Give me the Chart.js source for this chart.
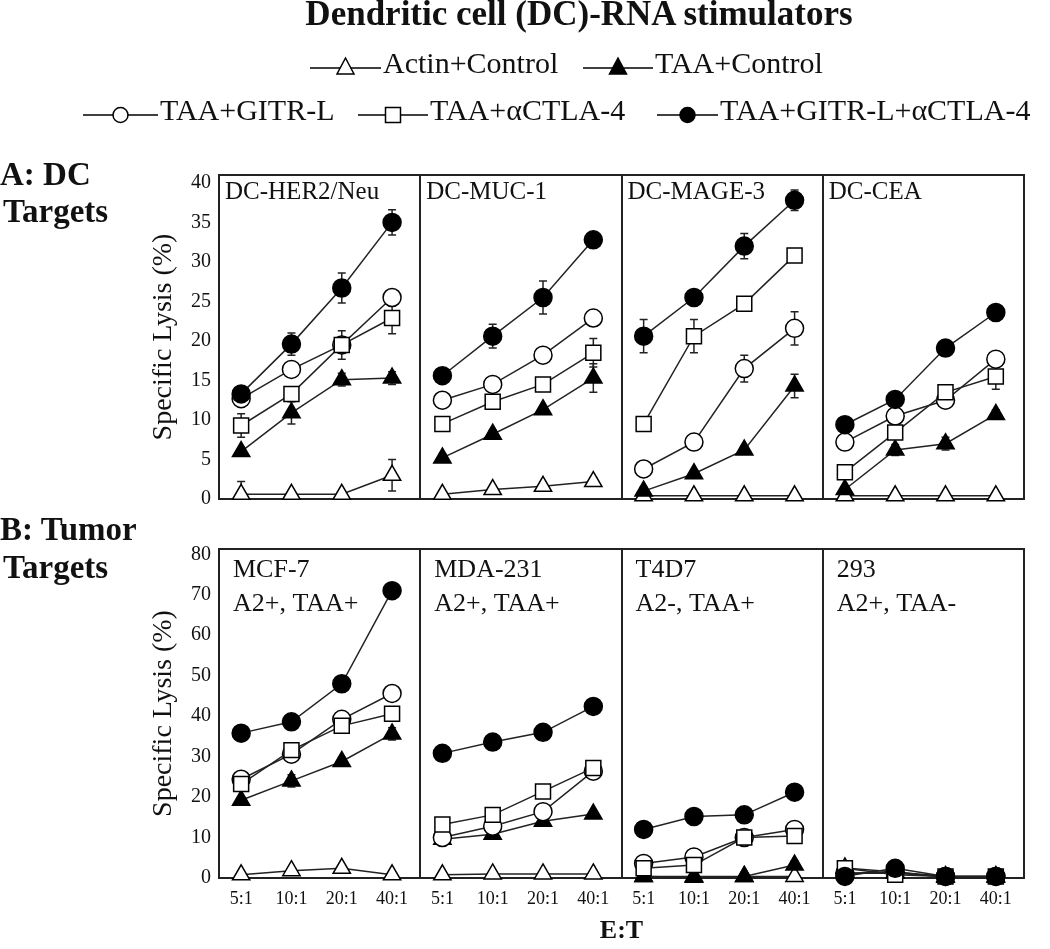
<!DOCTYPE html>
<html>
<head>
<meta charset="utf-8">
<script src="https://cdn.jsdelivr.net/npm/chart.js@4.4.1/dist/chart.umd.min.js"></script>
<style>
    html, body { margin: 0; padding: 0; background: #fff; }
    #page { position: relative; width: 1050px; height: 949px; overflow: hidden; }
    #overlay { position: absolute; left: 0; top: 0; pointer-events: none; z-index: 2; }
    .row { position: absolute; left: 143px; width: 897px; }
    #topRow { top: 155px; height: 364px; }
    #bottomRow { top: 529px; height: 420px; }
</style>
</head>
<body>
<div id="page">
    <svg id="overlay" width="1050" height="949"></svg>
    <div class="row" id="topRow"><canvas id="dcChart"></canvas></div>
    <div class="row" id="bottomRow"><canvas id="tumorChart"></canvas></div>
</div>
<script>
const ratios = ['5:1', '10:1', '20:1', '40:1'];
const seriesNames = ['Actin+Control', 'TAA+Control', 'TAA+GITR-L', 'TAA+αCTLA-4', 'TAA+GITR-L+αCTLA-4'];
const dcPanels = [['DC-HER2/Neu'], ['DC-MUC-1'], ['DC-MAGE-3'], ['DC-CEA']];
const tumorPanels = [['MCF-7', 'A2+, TAA+'], ['MDA-231', 'A2+, TAA+'], ['T4D7', 'A2-, TAA+'], ['293', 'A2+, TAA-']];
const dcTicks = [0, 5, 10, 15, 20, 25, 30, 35, 40];
const tumorTicks = [0, 10, 20, 30, 40, 50, 60, 70, 80];

// A: DC targets, one row per panel (5:1, 10:1, 20:1, 40:1)
const dcActin = [[0.6, 0.6, 0.6, 3.0], [0.6, 1.2, 1.6, 2.2], [0.4, 0.4, 0.4, 0.4], [0.4, 0.4, 0.4, 0.4]];
const dcTaa = [[6.0, 10.9, 15.1, 15.3], [5.2, 8.2, 11.3, 15.3], [1.0, 3.2, 6.2, 14.3], [1.2, 6.2, 7.0, 10.7]];
const dcGitr = [[12.7, 16.4, 19.5, 25.5], [12.5, 14.5, 18.2, 22.9], [3.8, 7.2, 16.5, 21.6], [7.2, 10.5, 12.5, 17.7]];
const dcCtla = [[9.3, 13.3, 19.5, 22.9], [9.5, 12.3, 14.5, 18.5], [9.5, 20.6, 24.7, 30.8], [3.4, 8.4, 13.5, 15.5]];
const dcBoth = [[13.3, 19.6, 26.7, 35.0], [15.6, 20.6, 25.5, 32.8], [20.6, 25.5, 32.0, 37.8], [9.4, 12.6, 19.1, 23.6]];

const dcActinErr = [[1.6, 0.3, 0.3, 2.0], [0.3, 0.3, 0.5, 0.5], [0.3, 0.3, 0.3, 0.3], [0.3, 0.3, 0.3, 0.3]];
const dcTaaErr = [[0.5, 1.4, 0.8, 0.8], [0.5, 0.5, 0.5, 1.8], [0.5, 0.5, 0.5, 1.5], [0.3, 0.7, 0.8, 0.6]];
const dcGitrErr = [[0.5, 0.5, 0.7, 0.8], [0.3, 0.6, 0.3, 0.6], [0.5, 0.6, 1.7, 2.1], [0.5, 0.5, 0.8, 0.5]];
const dcCtlaErr = [[1.5, 0.6, 1.8, 2.0], [0.3, 0.3, 0.3, 1.8], [0.3, 2.1, 0.5, 0.5], [0.3, 0.7, 0.8, 1.6]];
const dcBothErr = [[0.5, 1.4, 1.9, 1.6], [0.3, 1.5, 2.1, 0.5], [2.1, 0.5, 1.6, 1.3], [0.5, 0.5, 0.5, 0.5]];

// B: tumor targets
const tuActin = [[0.8, 1.8, 2.4, 0.8], [0.8, 1.0, 1.0, 1.0], [0.4, 0.4, 0.4, 0.4], [2.5, 1.5, 0.2, 0.2]];
const tuTaa = [[19.2, 24.0, 28.8, 35.6], [9.6, 10.8, 14.0, 15.8], [0.4, 0.2, 0.4, 3.2], [1.2, 1.2, 0.4, 0.4]];
const tuGitr = [[24.4, 30.6, 39.2, 45.6], [10.0, 12.8, 16.4, 26.4], [3.6, 5.2, 10.0, 12.0], [1.2, 1.5, 0.4, 0.4]];
const tuCtla = [[23.2, 31.6, 37.6, 40.6], [13.2, 15.6, 21.4, 27.2], [2.4, 3.2, 10.0, 10.4], [2.4, 0.8, 0.4, 0.4]];
const tuBoth = [[35.8, 38.6, 48.0, 71.0], [30.8, 33.6, 36.0, 42.4], [12.0, 15.2, 15.6, 21.2], [0.4, 2.4, 0.4, 0.4]];

const tuActinErr = [[0, 0, 0.5, 0], [0, 0, 0, 0], [0, 0, 0, 0], [0, 0, 0, 0]];
const tuTaaErr = [[0.8, 1.5, 1.0, 1.5], [0, 0.8, 0, 0], [0, 0, 0, 1.0], [0, 0, 0, 0]];
const tuGitrErr = [[0.8, 1.0, 1.0, 0.8], [0, 0, 0, 0.8], [0, 0, 0, 0], [0, 0, 0, 0]];
const tuCtlaErr = [[0.8, 1.0, 1.5, 1.0], [0, 0, 0, 0.8], [0, 0, 0, 0.8], [0, 0, 0, 0]];
const tuBothErr = [[0.8, 0.8, 0.8, 0.8], [0, 0, 0, 0], [0, 0, 0, 0], [0, 0, 0, 0]];

const FONT = "'Liberation Serif', 'Times New Roman', serif";
const X_OFFSET = 0.44;
const markerStyles = [
    { pointStyle: 'triangle', radius: 10, fill: '#fff', order: 5 },
    { pointStyle: 'triangle', radius: 10, fill: '#000', order: 4 },
    { pointStyle: 'circle', radius: 9, fill: '#fff', order: 3 },
    { pointStyle: 'rect', radius: 10.6, fill: '#fff', order: 2 },
    { pointStyle: 'circle', radius: 9, fill: '#000', order: 1 }
];

Chart.defaults.font.family = FONT;
Chart.defaults.color = '#111';
Chart.defaults.animation = false;

function toPoints(panels) {
    const pts = [];
    panels.forEach((vals, p) => {
        vals.forEach((v, i) => pts.push({ x: 4 * p + i + X_OFFSET, y: v }));
        if (p < panels.length - 1) pts.push({ x: 4 * p + 3.9, y: null });
    });
    return pts;
}

function toErrors(panels) {
    const out = [];
    panels.forEach((vals, p) => {
        vals.forEach(v => out.push(v));
        if (p < panels.length - 1) out.push(null);
    });
    return out;
}

// x positions of the category ticks in every panel
const tickPositions = [];
for (let p = 0; p < 4; p++) {
    ratios.forEach((r, i) => tickPositions.push(4 * p + i + X_OFFSET));
}

const errorBars = {
    id: 'errorBars',
    beforeDatasetsDraw(chart) {
        const { ctx } = chart;
        const yScale = chart.scales.y;
        ctx.save();
        ctx.strokeStyle = '#222';
        ctx.lineWidth = 1.5;
        chart.data.datasets.forEach((ds, di) => {
            const meta = chart.getDatasetMeta(di);
            meta.data.forEach((pt, k) => {
                const err = ds.errors[k];
                const raw = ds.data[k];
                if (!err || raw.y === null) return;
                const top = yScale.getPixelForValue(raw.y + err);
                const bot = yScale.getPixelForValue(Math.max(0, raw.y - err));
                ctx.beginPath();
                ctx.moveTo(pt.x, top); ctx.lineTo(pt.x, bot);
                ctx.moveTo(pt.x - 4, top); ctx.lineTo(pt.x + 4, top);
                ctx.moveTo(pt.x - 4, bot); ctx.lineTo(pt.x + 4, bot);
                ctx.stroke();
            });
        });
        ctx.restore();
    }
};

const panelFrame = {
    id: 'panelFrame',
    beforeDatasetsDraw(chart) {
        const { ctx, chartArea } = chart;
        const xScale = chart.scales.x;
        ctx.save();
        ctx.strokeStyle = '#222';
        ctx.lineWidth = 2;
        ctx.strokeRect(chartArea.left, chartArea.top, chartArea.right - chartArea.left, chartArea.bottom - chartArea.top);
        [4, 8, 12].forEach(v => {
            const x = Math.round(xScale.getPixelForValue(v));
            ctx.beginPath();
            ctx.moveTo(x, chartArea.top);
            ctx.lineTo(x, chartArea.bottom);
            ctx.stroke();
        });
        ctx.restore();
    }
};

const panelLabels = {
    id: 'panelLabels',
    afterDraw(chart, args, opts) {
        const { ctx, chartArea } = chart;
        const xScale = chart.scales.x;
        ctx.save();
        ctx.fillStyle = '#111';
        ctx.font = opts.size + 'px ' + FONT;
        ctx.textBaseline = 'top';
        opts.lines.forEach((lines, p) => {
            const left = xScale.getPixelForValue(4 * p);
            lines.forEach((t, li) => ctx.fillText(t, left + opts.dx, chartArea.top + opts.dy + li * opts.gap));
        });
        ctx.restore();
    }
};

function makeRowChart(canvasId, series, errors, yMax, yTicks, labelOpts, showX, padBottom) {
    const datasets = series.map((panels, s) => ({
        label: seriesNames[s],
        data: toPoints(panels),
        errors: toErrors(errors[s]),
        order: markerStyles[s].order,
        borderColor: '#222',
        borderWidth: 1.5,
        pointStyle: markerStyles[s].pointStyle,
        pointRadius: markerStyles[s].radius,
        pointBackgroundColor: markerStyles[s].fill,
        pointBorderColor: '#000',
        pointBorderWidth: 1.5,
        spanGaps: false,
        clip: false,
        tension: 0
    }));

    return new Chart(document.getElementById(canvasId), {
        type: 'line',
        data: { datasets },
        plugins: [errorBars, panelFrame, panelLabels],
        options: {
            responsive: true,
            maintainAspectRatio: false,
            devicePixelRatio: 1,
            layout: { padding: { top: 10, right: 16, bottom: padBottom, left: 0 } },
            plugins: {
                legend: { display: false },
                tooltip: { enabled: false },
                panelLabels: labelOpts
            },
            scales: {
                x: {
                    type: 'linear',
                    min: 0,
                    max: 16,
                    afterBuildTicks: s => { s.ticks = tickPositions.map(v => ({ value: v })); },
                    afterFit: s => { s.height = showX ? 71 : 0; },
                    grid: { display: false, drawTicks: false },
                    border: { display: false },
                    ticks: {
                        display: showX,
                        autoSkip: false,
                        maxRotation: 0,
                        padding: 10,
                        font: { size: 18 },
                        callback: v => ratios[Math.round(v - X_OFFSET) % 4]
                    },
                    title: {
                        display: showX,
                        text: 'E:T',
                        font: { size: 26, weight: 'bold' },
                        padding: { top: 4, bottom: 2 }
                    }
                },
                y: {
                    min: 0,
                    max: yMax,
                    afterBuildTicks: s => { s.ticks = yTicks.map(v => ({ value: v })); },
                    afterFit: s => { s.width = 76; },
                    grid: { display: false, drawTicks: false },
                    border: { display: false },
                    ticks: { padding: 8, font: { size: 20 } },
                    title: { display: true, text: 'Specific Lysis (%)', font: { size: 28 }, padding: 4 }
                }
            }
        }
    });
}

const dcChart = makeRowChart('dcChart',
    [dcActin, dcTaa, dcGitr, dcCtla, dcBoth],
    [dcActinErr, dcTaaErr, dcGitrErr, dcCtlaErr, dcBothErr],
    41, dcTicks,
    { lines: dcPanels, size: 25, dx: 6, dy: 5, gap: 33 },
    false, 14);

const tumorChart = makeRowChart('tumorChart',
    [tuActin, tuTaa, tuGitr, tuCtla, tuBoth],
    [tuActinErr, tuTaaErr, tuGitrErr, tuCtlaErr, tuBothErr],
    81.3, tumorTicks,
    { lines: tumorPanels, size: 26, dx: 14, dy: 8, gap: 34 },
    true, 0);

// header: title, legend and row labels
const svgNS = 'http://www.w3.org/2000/svg';
const svg = document.getElementById('overlay');

function el(tag, attrs) {
    const e = document.createElementNS(svgNS, tag);
    for (const k in attrs) e.setAttribute(k, attrs[k]);
    svg.appendChild(e);
    return e;
}

function addText(str, x, y, size, weight, anchor) {
    const t = el('text', {
        x, y, 'font-family': FONT, 'font-size': size, 'font-weight': weight || 'normal',
        'text-anchor': anchor || 'start', fill: '#111'
    });
    t.textContent = str;
    return t;
}

function legendMarker(s, cx, cy) {
    const st = markerStyles[s];
    const common = { fill: st.fill, stroke: '#000', 'stroke-width': 1.5 };
    if (st.pointStyle === 'circle') {
        el('circle', Object.assign({ cx, cy, r: 7.5 }, common));
    } else if (st.pointStyle === 'rect') {
        el('rect', Object.assign({ x: cx - 7.5, y: cy - 7.5, width: 15, height: 15 }, common));
    } else {
        el('polygon', Object.assign({ points: `${cx},${cy - 10} ${cx + 8.5},${cy + 6} ${cx - 8.5},${cy + 6}` }, common));
    }
}

addText('Dendritic cell (DC)-RNA stimulators', 579, 25, 35, 'bold', 'middle');

const legendLayout = [
    { lineX: 310, textX: 383, y: 73 },
    { lineX: 583, textX: 655, y: 73 },
    { lineX: 83, textX: 160, y: 120 },
    { lineX: 358, textX: 430, y: 120 },
    { lineX: 657, textX: 720, y: 120 }
];
legendLayout.forEach((pos, s) => {
    const ly = pos.y - 5;
    el('line', { x1: pos.lineX, y1: ly, x2: pos.textX - 2, y2: ly, stroke: '#000', 'stroke-width': 1.5 });
    legendMarker(s, (pos.lineX + pos.textX) / 2 - 1, ly);
    addText(seriesNames[s], pos.textX, pos.y, 30);
});

addText('A: DC', 0, 185, 33, 'bold');
addText('Targets', 3, 222, 33, 'bold');
addText('B: Tumor', 0, 540, 33, 'bold');
addText('Targets', 3, 578, 33, 'bold');
</script>
</body>
</html>
